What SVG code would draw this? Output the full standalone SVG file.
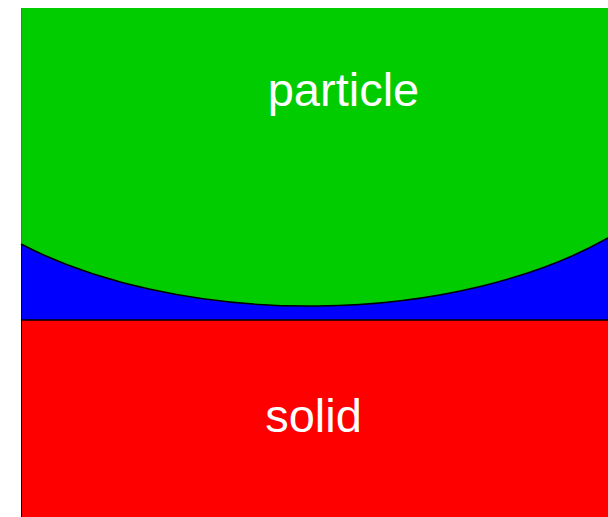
<svg xmlns="http://www.w3.org/2000/svg" width="608" height="517" viewBox="0 0 608 517">
<style>
.lbl{font-family:"Liberation Sans",Arial,sans-serif;font-size:47px;fill:#fff;text-anchor:middle}
.edge{fill:none;stroke:#000;stroke-width:1.5}
</style>
<rect width="608" height="517" fill="#fff"/>
<g id="fluid"><rect x="21" y="8" width="587" height="312" fill="#0000ff"/></g>
<g id="particle">
<path d="M21,8 H608 V238 A405,209 0 0 1 21,244 Z" fill="#00cc00"/>
<text class="lbl" x="343.5" y="106">particle</text>
</g>
<g id="solid">
<rect x="21" y="320" width="587" height="197" fill="#ff0000"/>
<text class="lbl" x="313.5" y="432">solid</text>
</g>
<g id="connectors">
<path class="edge" d="M608,238 A405,209 0 0 1 21,244"/>
<line class="edge" x1="21" y1="320" x2="608" y2="320"/>
<line x1="21.5" y1="244" x2="21.5" y2="517" stroke="#000" stroke-width="1"/>
<line x1="21.5" y1="8" x2="21.5" y2="244" stroke="#555" stroke-width="0.5"/>
</g>
</svg>
